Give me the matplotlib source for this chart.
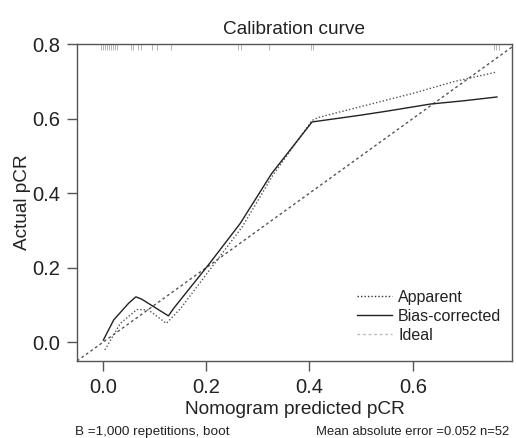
import matplotlib
matplotlib.use("Agg")
import matplotlib.pyplot as plt
from matplotlib.lines import Line2D

plt.rcParams['font.family'] = ['Liberation Sans', 'DejaVu Sans']

# predicted values (rug at the top)
rug_x = [-0.004, 0.0, 0.004, 0.008, 0.012, 0.016, 0.02, 0.024, 0.028,
         0.054, 0.058, 0.068, 0.074, 0.096, 0.105, 0.132,
         0.262, 0.267, 0.322, 0.403, 0.407, 0.758, 0.762, 0.766]

# apparent calibration
app_x = [0.004, 0.034, 0.066, 0.088, 0.123, 0.15, 0.21, 0.27, 0.33, 0.405,
         0.417, 0.601, 0.679, 0.763]
app_y = [-0.02, 0.051, 0.088, 0.087, 0.051, 0.09, 0.2, 0.31, 0.45, 0.595,
         0.603, 0.668, 0.699, 0.725]

# bias-corrected calibration
bc_x = [0.001, 0.021, 0.05, 0.064, 0.075, 0.127, 0.137, 0.204, 0.266, 0.327,
        0.405, 0.498, 0.55, 0.634, 0.7, 0.763]
bc_y = [0.006, 0.06, 0.105, 0.122, 0.116, 0.071, 0.091, 0.207, 0.319, 0.453,
        0.591, 0.609, 0.62, 0.639, 0.648, 0.658]

x_ticks = [0.0, 0.2, 0.4, 0.6]
y_ticks = [0.0, 0.2, 0.4, 0.6, 0.8]

fig = plt.figure(figsize=(5.16, 4.38), dpi=100)
ax = fig.add_axes([0.1492, 0.1758, 0.8430, 0.7237])

ax.set_xlim(-0.05, 0.792)
ax.set_ylim(-0.05, 0.8)

ax.plot([-0.05, 0.8], [-0.05, 0.8], color='#555555', lw=1, dashes=(2, 2))
ax.plot(app_x, app_y, color='#555555', lw=1, linestyle=(0, (1, 1.5)))
ax.plot(bc_x, bc_y, color='#222222', lw=1)
ax.vlines(rug_x, 0.785, 0.8, color='#aaaaaa', lw=0.6)

for s in ax.spines.values():
    s.set_color('#555555')
    s.set_linewidth(1)
ax.set_xticks(x_ticks)
ax.set_yticks(y_ticks)
ax.set_xticklabels(['%.1f' % v for v in x_ticks])
ax.set_yticklabels(['%.1f' % v for v in y_ticks])
ax.tick_params(direction='out', length=7, width=1, color='#555555',
               labelsize=14.5, labelcolor='#222222', pad=5)

ax.set_title('Calibration curve', fontsize=13.7, color='#222222', pad=7.5)
ax.set_xlabel('Nomogram predicted pCR', fontsize=13.7, color='#222222', labelpad=3)
ax.set_ylabel('Actual pCR', fontsize=13.7, color='#222222', labelpad=1)

handles = [Line2D([], [], color='#333333', lw=1, linestyle=(0, (1, 1.5))),
           Line2D([], [], color='#222222', lw=1),
           Line2D([], [], color='#bbbbbb', lw=1, dashes=(2, 2))]
ax.legend(handles, ['Apparent', 'Bias-corrected', 'Ideal'], loc='upper left',
          bbox_to_anchor=(357 / 516, 1 - 290 / 438), bbox_transform=fig.transFigure,
          frameon=False, fontsize=11.5, handlelength=2.2, handletextpad=0.37,
          labelspacing=0.25, borderaxespad=0, borderpad=0, labelcolor='#222222')

fig.text(0.145, 3 / 438, 'B =1,000 repetitions, boot', fontsize=9.7,
         color='#222222', va='baseline')
fig.text(0.986, 3 / 438, 'Mean absolute error =0.052 n=52', fontsize=9.4,
         color='#222222', ha='right', va='baseline')

fig.savefig('out.png', dpi=100)
